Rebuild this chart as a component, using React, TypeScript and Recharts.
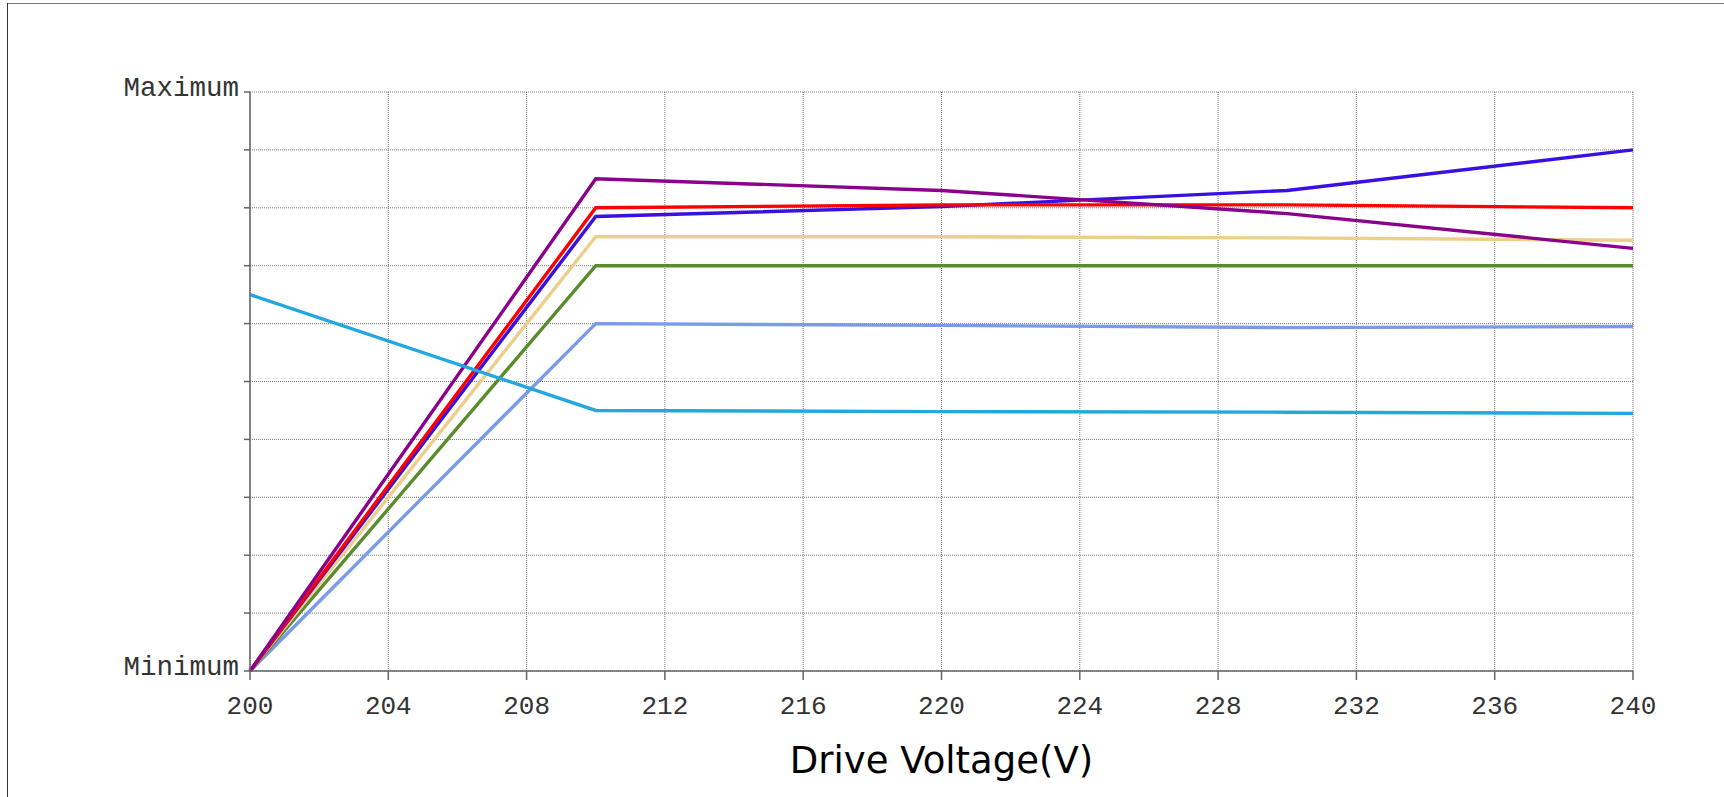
import React from "react";
import { LineChart, Line, XAxis, YAxis, CartesianGrid, Label } from "recharts";

const voltages = [200, 210, 220, 230, 240];
const purple = [0, 8.5, 8.3, 7.9, 7.3];
const blue = [0, 7.85, 8.02, 8.3, 9.0];
const red = [0, 8.0, 8.05, 8.05, 8.0];
const tan = [0, 7.5, 7.5, 7.48, 7.44];
const green = [0, 7.0, 7.0, 7.0, 7.0];
const lightBlue = [0, 6.0, 5.97, 5.93, 5.95];
const cyan = [6.5, 4.5, 4.48, 4.47, 4.45];

const xTicks = [200, 204, 208, 212, 216, 220, 224, 228, 232, 236, 240];
const yTicks = [0, 1, 2, 3, 4, 5, 6, 7, 8, 9, 10];
const yLabels: Record<number, string> = { 0: "Minimum", 10: "Maximum" };
const axisTitle = "Drive Voltage(V)";

const data = voltages.map((v, i) => ({
  v,
  purple: purple[i],
  blue: blue[i],
  red: red[i],
  tan: tan[i],
  green: green[i],
  lightBlue: lightBlue[i],
  cyan: cyan[i],
}));

const series = [
  { key: "lightBlue", color: "#7B9AE8" },
  { key: "green", color: "#5A8C2E" },
  { key: "tan", color: "#EDCF8C" },
  { key: "blue", color: "#3A10E2" },
  { key: "red", color: "#FF0000" },
  { key: "purple", color: "#8B008B" },
  { key: "cyan", color: "#22A8DC" },
];

const mono = "'Liberation Mono', 'DejaVu Sans Mono', monospace";

const XTick = (props: any) => {
  const { x, y, payload } = props;
  return (
    <text x={x} y={y + 34} textAnchor="middle" fontFamily={mono} fontSize={26} fill="#333">
      {payload.value}
    </text>
  );
};

const YTick = (props: any) => {
  const { x, y, payload } = props;
  const label = yLabels[payload.value] ?? "";
  return (
    <text x={x} y={y + 4} textAnchor="end" fontFamily={mono} fontSize={27.5} fill="#333">
      {label}
    </text>
  );
};

export default function App() {
  return (
    <div style={{ position: "absolute", left: 0, top: 0, width: 1724, height: 797, background: "#fff", overflow: "hidden" }}>
      <div style={{ position: "absolute", left: 7, top: 3, width: 1717, height: 1, background: "#7a7a7a" }} />
      <div style={{ position: "absolute", left: 7, top: 3, width: 1, height: 794, background: "#333" }} />
      <div style={{ position: "absolute", left: 0, top: 0 }}>
        <LineChart width={1724} height={797} data={data} margin={{ top: 92, right: 91, bottom: 0, left: 0 }}>
          <CartesianGrid stroke="#777" strokeDasharray="1 1" strokeWidth={1} />
          <XAxis
            dataKey="v"
            type="number"
            domain={[200, 240]}
            ticks={xTicks}
            interval={0}
            height={126}
            tick={<XTick />}
            tickSize={9}
            tickMargin={0}
            axisLine={{ stroke: "#666", strokeWidth: 1.5 }}
            tickLine={{ stroke: "#666", strokeWidth: 1.5 }}
          >
            <Label
              content={(p: any) => {
                const vb = p.viewBox || { x: 250, y: 671, width: 1383 };
                return (
                  <text
                    x={vb.x + vb.width / 2}
                    y={vb.y + 102}
                    textAnchor="middle"
                    fontFamily="'DejaVu Sans', Verdana, sans-serif"
                    fontSize={37}
                    fill="#000"
                  >
                    {axisTitle}
                  </text>
                );
              }}
            />
          </XAxis>
          <YAxis
            type="number"
            domain={[0, 10]}
            ticks={yTicks}
            interval={0}
            width={250}
            tick={<YTick />}
            tickSize={6}
            tickMargin={5}
            axisLine={{ stroke: "#666", strokeWidth: 1.5 }}
            tickLine={{ stroke: "#666", strokeWidth: 1.5 }}
          />
          {series.map((s) => (
            <Line
              key={s.key}
              type="linear"
              dataKey={s.key}
              stroke={s.color}
              strokeWidth={3.4}
              dot={false}
              activeDot={false}
              isAnimationActive={false}
            />
          ))}
        </LineChart>
      </div>
    </div>
  );
}
